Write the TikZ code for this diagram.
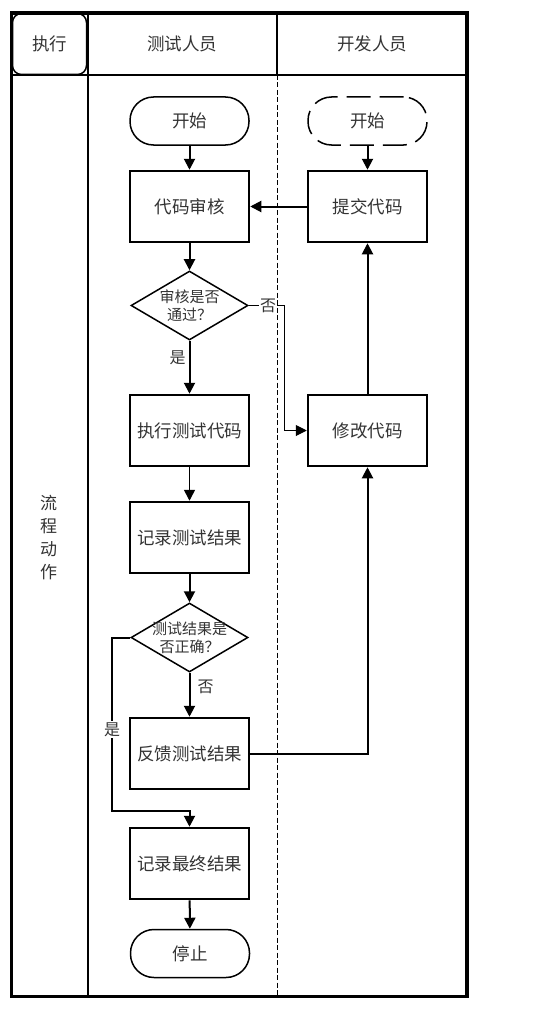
\documentclass[tikz,border=0pt]{standalone}
\usepackage{fontspec}
\setmainfont{Noto Sans CJK SC}
\usetikzlibrary{shapes.geometric,arrows.meta}
\begin{document}
\begin{tikzpicture}[x=1pt,y=-1pt,
  txt/.style={text=black!80, font=\fontsize{17.5}{21}\selectfont},
  procbox/.style={draw, line width=2.5pt, minimum width=119pt, minimum height=71pt, inner sep=0pt, txt},
  term/.style={draw, line width=1.5pt, rounded corners=23.5pt, minimum width=119pt, minimum height=48pt, inner sep=0pt, txt},
  decbox/.style={draw, diamond, line width=1.5pt, minimum width=117pt, minimum height=69pt, inner sep=0pt},
  dtext/.style={align=center, text=black!80, font=\fontsize{15}{18}\selectfont},
  lbl/.style={inner sep=1pt, text=black!80, font=\fontsize{16}{18}\selectfont},
  tip/.style={-{Triangle[length=11pt,width=11pt]}},
  conn/.style={line width=2pt, tip},
]
\useasboundingbox (0,0) rectangle (541,1022);
% frame and lanes
\draw[line width=3.5pt] (11.5,13) rectangle (467,996.5);
\draw[line width=2pt] (11.5,75) -- (467,75);
\draw[line width=2pt] (87.5,13) -- (87.5,996.5);
\draw[line width=1.5pt] (277,13) -- (277,75);
\draw[line width=1pt, dash pattern=on 5pt off 2.5pt] (277,75) -- (277,996.5);
% headers
\node[draw, line width=1.5pt, rounded corners=9pt, minimum width=74pt, minimum height=61pt, inner sep=0pt, txt] (hexec) at (49.5,44) {执行};
\node[txt] (htest) at (182,44) {测试人员};
\node[txt] (hdev) at (372,44) {开发人员};
\node[txt, align=center, font=\fontsize{17}{23}\selectfont] (lane) at (48.5,538) {流\\程\\动\\作};
% nodes
\node[term] (start1) at (189.5,121) {开始};
\node[term, dash pattern=on 24pt off 9pt] (start2) at (367.5,121) {开始};
\node[procbox] (review) at (189.5,206.5) {代码审核};
\node[procbox] (submit) at (367.5,206.5) {提交代码};
\node[decbox] (d1) at (189.5,305.5) {};
\node[dtext] (d1t) at (d1) {审核是否\\通过？};
\node[procbox] (exec) at (189.5,430.5) {执行测试代码};
\node[procbox] (modify) at (367.5,430.5) {修改代码};
\node[procbox] (record) at (189.5,537.5) {记录测试结果};
\node[decbox] (d2) at (189.5,637.5) {};
\node[dtext] (d2t) at (d2) {测试结果是\\否正确？};
\node[procbox] (feedback) at (189.5,753.5) {反馈测试结果};
\node[procbox] (final) at (189.5,863.5) {记录最终结果};
\node[term] (stop) at (190,953.5) {停止};
% connectors
\draw[conn] (start1) -- (review);
\draw[conn] (start2) -- (submit);
\draw[conn] (submit) -- (review);
\draw[conn] (review) -- (d1);
\draw[conn] (d1) -- node[lbl, pos=0.33, left=2pt] {是} (exec);
\draw[line width=1pt, tip] (d1.east) -- node[lbl, fill=white, pos=0.55] {否} (284,305.5) |- (modify.west);
\draw[line width=1.5pt, tip] (exec) -- (record);
\draw[conn] (record) -- (d2);
\draw[conn] (d2) -- node[lbl, pos=0.31, right=6pt] {否} (feedback);
\draw[conn] (feedback.east) -| (modify.south);
\draw[conn] (modify) -- (submit);
\draw[conn] (d2.west) -- (112,637.5) -- node[lbl, fill=white, pos=0.53] {是} (112,811) -| (final.north);
\draw[conn] (final) -- (stop);
\end{tikzpicture}
\end{document}
